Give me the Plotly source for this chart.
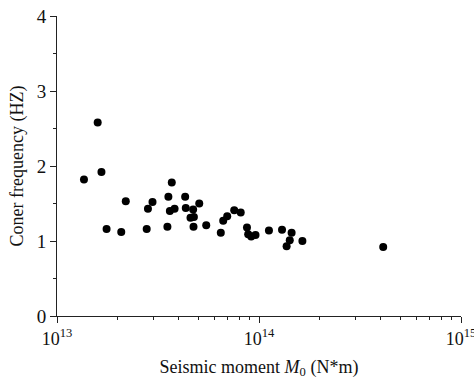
import plotly.graph_objects as go

# Seismic moment (N*m) and corner frequency (Hz)
moment = [1.36e13, 1.59e13, 1.66e13, 1.76e13, 2.08e13, 2.19e13, 2.78e13, 2.82e13,
          2.97e13, 3.52e13, 3.56e13, 3.62e13, 3.70e13, 3.82e13, 4.31e13, 4.34e13,
          4.58e13, 4.72e13, 4.74e13, 4.76e13, 5.06e13, 5.48e13, 6.47e13, 6.65e13,
          6.96e13, 7.54e13, 8.12e13, 8.72e13, 8.84e13, 9.15e13, 9.61e13, 1.12e14,
          1.30e14, 1.37e14, 1.42e14, 1.45e14, 1.64e14, 4.12e14]
corner_freq = [1.82, 2.58, 1.92, 1.16, 1.12, 1.53, 1.16, 1.43,
               1.52, 1.19, 1.59, 1.40, 1.78, 1.43, 1.59, 1.44,
               1.31, 1.42, 1.19, 1.32, 1.50, 1.21, 1.11, 1.27,
               1.33, 1.41, 1.38, 1.18, 1.09, 1.06, 1.08, 1.14,
               1.15, 0.93, 1.01, 1.11, 1.00, 0.92]

x_tickvals = [1e13, 1e14, 1e15]
x_ticktext = ["10<sup>13</sup>", "10<sup>14</sup>", "10<sup>15</sup>"]
y_tickvals = [0, 1, 2, 3, 4]

minor_x = [k * 10 ** e for e in (13, 14) for k in range(2, 10)]

fig = go.Figure()
fig.add_trace(go.Scatter(
    x=moment, y=corner_freq, mode="markers",
    marker=dict(color="black", size=8, line=dict(width=0)),
    showlegend=False,
))

font = "Liberation Serif, Times New Roman, serif"
fig.update_layout(
    width=474, height=382,
    margin=dict(l=57, r=13, t=16, b=66, autoexpand=False),
    paper_bgcolor="white", plot_bgcolor="white",
    font=dict(family=font, size=17, color="#111"),
    xaxis=dict(
        type="log", range=[13, 15.00001],
        tickvals=x_tickvals, ticktext=x_ticktext,
        ticks="outside", ticklen=6, tickcolor="#222", tickwidth=1,
        showline=True, linecolor="#222", linewidth=1,
        showgrid=False, zeroline=False, ticklabeloverflow="allow",
        minor=dict(tickvals=minor_x, ticks="outside", ticklen=3, tickcolor="#222", showgrid=False),
        title=dict(text="Seismic moment <i>M</i><sub>0</sub> (N*m)", font=dict(size=18), standoff=12),
        tickfont=dict(size=18),
    ),
    yaxis=dict(
        range=[0, 4], tickvals=y_tickvals,
        ticks="outside", ticklen=6, tickcolor="#222", tickwidth=1,
        showline=True, linecolor="#222", linewidth=1,
        showgrid=False, zeroline=False,
        minor=dict(dtick=0.5, ticks="outside", ticklen=3, tickcolor="#222", showgrid=False),
        title=dict(text="Coner frequency (HZ)", font=dict(size=18), standoff=8),
        tickfont=dict(size=19),
    ),
)

fig.write_html("out.html")
